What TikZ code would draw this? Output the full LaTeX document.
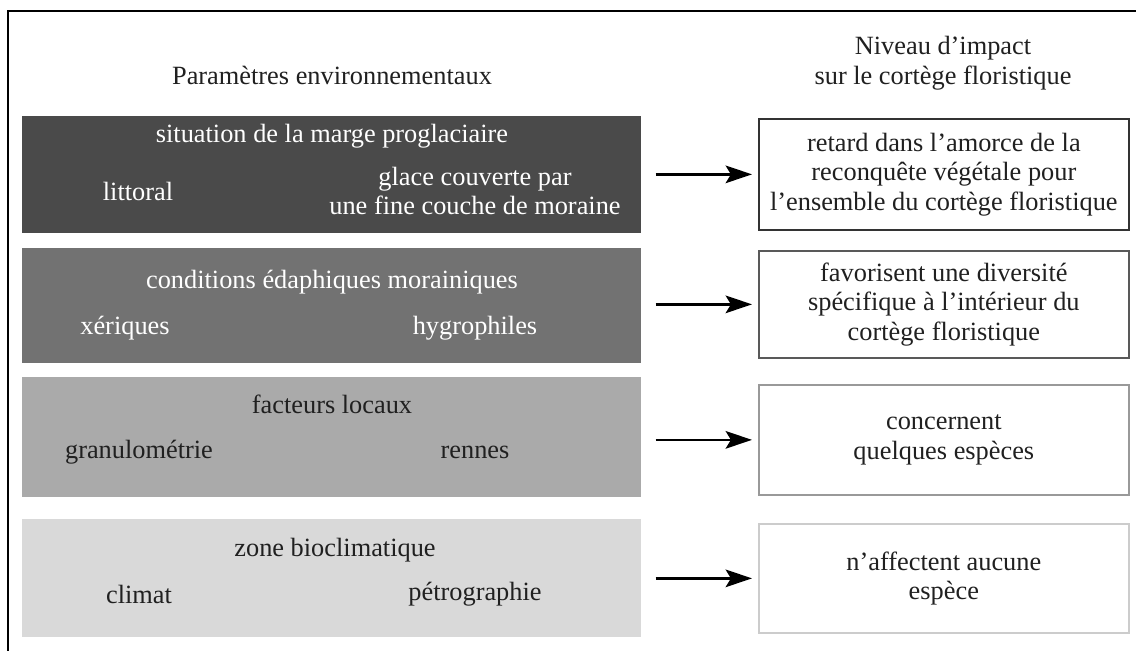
\documentclass[tikz,border=0pt]{standalone}
\usepackage{fontspec}
\setmainfont{Liberation Serif}
\usetikzlibrary{arrows.meta, positioning, calc}

\definecolor{gDark}{HTML}{4A4A4A}
\definecolor{gMid}{HTML}{727272}
\definecolor{gLight}{HTML}{AAAAAA}
\definecolor{gPale}{HTML}{D9D9D9}
\definecolor{inkA}{HTML}{202020}

\begin{document}
\begin{tikzpicture}[x=0.02cm, y=-0.02cm, >={Stealth[length=15pt, width=10pt, inset=3pt]},
    font=\fontsize{15}{16.8}\selectfont, text=inkA]
    \tikzset{
        param/.style={draw=none, minimum width=12.38cm, inner sep=0pt, anchor=north west},
        impact/.style={draw, line width=1pt, fill=white, minimum width=7.4cm, inner sep=0pt,
            align=center, anchor=north west},
        lbl/.style={align=center, inner sep=0pt},
    }
    \useasboundingbox (0,0) rectangle (1136,651);

    % cadre
    \draw[line width=1.5pt] (8,651) -- (8,11) -- (1136,11);

    % titres des colonnes
    \node[lbl] (param) at (332,75) {Paramètres environnementaux};
    \node[lbl] (niveau) at (943,63) {Niveau d’impact\\sur le cortège floristique};

    % parametres
    \node[param, fill=gDark, minimum height=2.34cm] (sit) at (22,116) {};
    \node[lbl, text=white] (sitT) at (332,136) {situation de la marge proglaciaire};
    \node[lbl, text=white] (litt) at (138,191) {littoral};
    \node[lbl, text=white] (glace) at (475,191) {glace couverte par\\une fine couche de moraine};

    \node[param, fill=gMid, minimum height=2.3cm] (eda) at (22,248) {};
    \node[lbl, text=white] (edaT) at (332,282) {conditions édaphiques morainiques};
    \node[lbl, text=white] (xer) at (125,328) {xériques};
    \node[lbl, text=white] (hygro) at (475,328) {hygrophiles};

    \node[param, fill=gLight, minimum height=2.4cm] (loc) at (22,377) {};
    \node[lbl] (locT) at (332,404) {facteurs locaux};
    \node[lbl] (granu) at (139,452) {granulométrie};
    \node[lbl] (rennes) at (475,452) {rennes};

    \node[param, fill=gPale, minimum height=2.36cm] (bio) at (22,519) {};
    \node[lbl] (bioT) at (335,550) {zone bioclimatique};
    \node[lbl] (climat) at (139,594) {climat};
    \node[lbl] (petro) at (475,594) {pétrographie};

    % niveaux d'impact
    \node[impact, draw=black!80, minimum height=2.22cm] (retard) at (758,118)
        {retard dans l’amorce de la\\reconquête végétale pour\\l’ensemble du cortège floristique};
    \node[impact, draw=black!65, minimum height=2.14cm] (favor) at (758,250)
        {favorisent une diversité\\spécifique à l’intérieur du\\cortège floristique};
    \node[impact, draw=black!40, minimum height=2.2cm] (concern) at (758,384)
        {concernent\\quelques espèces};
    \node[impact, draw=black!20, minimum height=2.18cm] (aucune) at (758,523)
        {n’affectent aucune\\espèce};

    \foreach \l/\r in {sit/retard, eda/favor, loc/concern, bio/aucune}
        \draw[->, line width=1.3pt, shorten <=0.28cm, shorten >=0.12cm] (\r.west -| \l.east) -- (\r.west);

\end{tikzpicture}
\end{document}
